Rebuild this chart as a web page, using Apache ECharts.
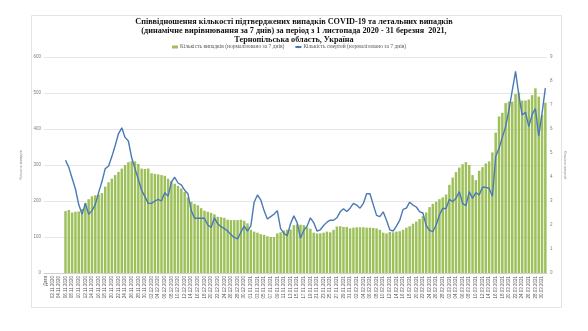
<!DOCTYPE html>
<html>
<head>
<meta charset="utf-8">
<script src="https://cdn.jsdelivr.net/npm/echarts@6/dist/echarts.min.js"></script>
<style>html,body{margin:0;padding:0;background:#fff}#c{width:588px;height:331px}</style>
</head>
<body>
<div id="c"></div>
<script>
// Category labels: header cell "Дата" then daily dates 01.11.2020 - 31.03.2021
const firstDate = [2020, 10, 1];
const lastDate = [2021, 2, 31];
const categories = ['Дата'];
(function(){
  const d = new Date(Date.UTC(firstDate[0], firstDate[1], firstDate[2]));
  const end = new Date(Date.UTC(lastDate[0], lastDate[1], lastDate[2]));
  while (d <= end) {
    const dd = String(d.getUTCDate()).padStart(2, '0');
    const mm = String(d.getUTCMonth() + 1).padStart(2, '0');
    categories.push(dd + '.' + mm + '.' + d.getUTCFullYear());
    d.setUTCDate(d.getUTCDate() + 1);
  }
})();

// number of leading categories without data (Дата, 01.11 - 05.11)
const leadingEmpty = 6;

// 7-day normalized cases, from 06.11.2020 to 31.03.2021
const casesValues = [
  172,175,168,170,171,178,195,205,213,216,218,222,240,252,262,272,281,290,300,308,
  311,310,303,290,289,290,277,275,274,272,270,262,255,248,242,235,225,210,198,192,
  188,180,173,170,167,163,156,155,153,148,147,147,147,148,145,138,120,115,112,108,
  106,102,100,100,110,113,118,120,121,133,135,134,133,126,123,112,110,110,112,115,
  113,120,129,130,128,128,124,126,127,127,127,126,126,125,124,120,112,110,114,113,
  115,116,120,126,130,137,143,150,158,168,183,192,198,205,210,218,245,265,280,293,
  302,308,300,272,258,284,294,304,310,335,390,435,445,472,476,476,497,501,479,479,
  482,494,513,490,439,473
];

// 7-day normalized deaths, from 06.11.2020 to 31.03.2021
const deathsValues = [
  4.7,4.4,3.95,3.5,2.85,2.45,2.9,2.45,2.6,2.85,3.35,3.8,4.35,4.45,4.85,5.3,5.8,6.05,5.65,5.5,
  4.8,4.35,3.9,3.45,3.18,2.9,2.9,3.0,3.07,3.0,3.35,3.2,3.8,3.99,3.75,3.67,3.45,3.3,2.6,2.28,
  2.28,2.28,2.28,2.0,1.9,2.3,2.05,1.93,1.85,1.75,1.6,1.48,1.42,1.7,1.95,1.75,1.96,2.95,3.25,3.05,
  2.6,2.25,2.35,2.45,2.6,1.85,1.65,1.55,2.05,2.38,2.1,1.45,1.78,1.95,2.3,2.1,1.75,1.8,1.98,2.12,
  2.2,2.2,2.3,2.55,2.68,2.56,2.7,2.9,2.83,2.7,2.9,3.3,3.3,2.85,2.4,2.35,2.55,2.2,1.8,1.75,
  1.95,2.2,2.65,2.7,2.95,2.83,2.75,2.56,2.5,1.98,1.78,1.72,2.0,2.42,2.69,2.69,3.07,2.97,3.11,3.39,
  2.9,2.8,3.39,3.11,3.35,3.25,3.57,3.57,3.53,3.2,4.85,5.2,5.65,6.1,6.8,7.6,8.4,7.4,6.58,6.7,
  6.1,6.6,6.85,5.7,6.65,7.7
];

const leftTicks = {min: 0, max: 600, interval: 100};
const rightTicks = {min: 0, max: 9, interval: 1};

const titleText = 'Співвідношення кількості підтверджених випадків COVID-19 та летальних випадків\n(динамічне вирівнювання за 7 днів) за період з 1 листопада 2020 - 31 березня  2021,\nТернопільська область, Україна';
const casesName = 'Кількість випадків (нормалізовано за 7 днів)';
const deathsName = 'Кількість смертей (нормалізовано за 7 днів)';
const leftAxisName = 'Кількість випадків';
const rightAxisName = 'Кількість смертей';

const pad = new Array(leadingEmpty).fill('-');
const casesData = pad.concat(casesValues);
const deathsData = pad.concat(deathsValues);

const chart = echarts.init(document.getElementById('c'), null, {renderer: 'canvas'});
const axisLabelStyle = {fontSize: 4.5, color: '#7f7f7f', fontFamily: 'Liberation Sans'};
chart.setOption({
  animation: false,
  backgroundColor: '#ffffff',
  graphic: [{
    type: 'rect', left: 29, top: 13, shape: {width: 530, height: 292},
    style: {fill: 'none', stroke: '#e3e3e3', lineWidth: 1}, silent: true
  }],
  title: {
    text: titleText,
    left: 'center', top: 12,
    textStyle: {fontFamily: 'Liberation Serif', fontSize: 8.2, fontWeight: 'bold', color: '#111', lineHeight: 9.3}
  },
  legend: {
    top: 44, left: 172, padding: 0, itemGap: 10, itemWidth: 6, itemHeight: 3,
    textStyle: {fontFamily: 'Liberation Serif', fontSize: 5.5, color: '#595959', padding: [0,0,0,-3]},
    data: [{name: casesName, icon: 'rect'}, {name: deathsName}]
  },
  grid: {left: 44, right: 41, top: 57, bottom: 58},
  xAxis: {
    type: 'category', data: categories,
    axisLine: {lineStyle: {color: '#d0d0d0', width: 1}},
    axisTick: {show: false},
    axisLabel: Object.assign({rotate: 90, interval: 1, margin: 3}, axisLabelStyle, {color: '#555'})
  },
  yAxis: [{
    type: 'value', min: leftTicks.min, max: leftTicks.max, interval: leftTicks.interval,
    name: leftAxisName, nameLocation: 'middle', nameGap: 9, nameRotate: 90,
    nameTextStyle: {fontSize: 3.5, color: '#8a8a8a'},
    axisLine: {show: false}, axisTick: {show: false},
    axisLabel: Object.assign({margin: 3}, axisLabelStyle),
    splitLine: {lineStyle: {color: '#e6e6e6', width: 1}}
  }, {
    type: 'value', min: rightTicks.min, max: rightTicks.max, interval: rightTicks.interval,
    name: rightAxisName, nameLocation: 'middle', nameGap: 7, nameRotate: -90,
    nameTextStyle: {fontSize: 3.5, color: '#8a8a8a'},
    axisLine: {show: false}, axisTick: {show: false},
    axisLabel: Object.assign({margin: 3}, axisLabelStyle),
    splitLine: {show: false}
  }],
  series: [{
    name: casesName, type: 'bar', data: casesData, yAxisIndex: 0,
    barCategoryGap: '25%',
    itemStyle: {color: '#9dc05a'}
  }, {
    name: deathsName, type: 'line', data: deathsData, yAxisIndex: 1,
    symbol: 'none', showSymbol: false,
    lineStyle: {color: '#4a79b5', width: 1.4},
    itemStyle: {color: '#4a79b5'}
  }]
});
</script>
</body>
</html>
